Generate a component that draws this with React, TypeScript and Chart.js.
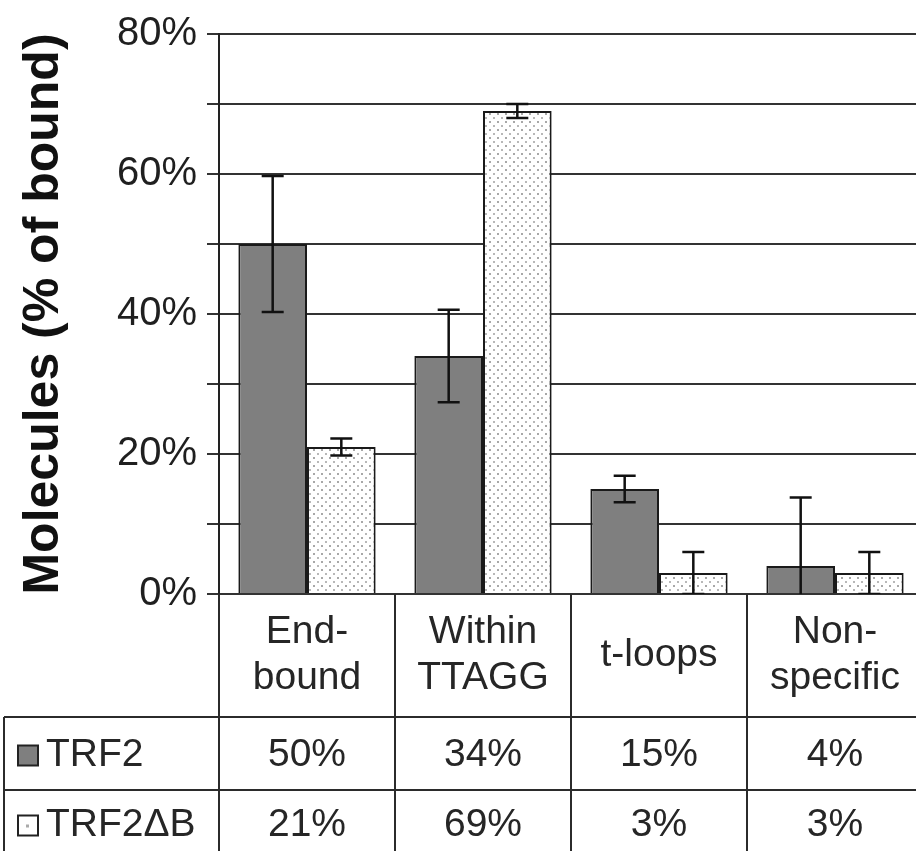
import React, { useEffect, useRef } from "react";
import { Chart, registerables } from "chart.js";

Chart.register(...registerables);

const categories: string[][] = [["End-", "bound"], ["Within", "TTAGG"], ["t-loops"], ["Non-", "specific"]];
const seriesNames = ["TRF2", "TRF2\u0394B"];
const trf2Values = [50, 34, 15, 4];
const trf2dbValues = [21, 69, 3, 3];
const trf2Errors = [9.7, 6.6, 1.9, 9.8];
const trf2dbErrors = [1.2, 1.0, 3.0, 3.0];
const yTickValues = [0, 20, 40, 60, 80];
const yTitle = "Molecules (% of bound)";

const FONT = "'Liberation Sans', Arial, sans-serif";

function makePattern(): CanvasPattern | string {
  const c = document.createElement("canvas");
  c.width = 8;
  c.height = 8;
  const g = c.getContext("2d");
  if (!g) return "#fff";
  g.fillStyle = "#ffffff";
  g.fillRect(0, 0, 8, 8);
  g.fillStyle = "#a8a8a8";
  g.fillRect(1, 1, 2, 2);
  g.fillStyle = "#b8b8b8";
  g.fillRect(5, 5, 2, 2);
  const p = g.createPattern(c, "repeat");
  return p || "#fff";
}

const errorsList = [trf2Errors, trf2dbErrors];

const errorBarPlugin = {
  id: "errorBars",
  afterDatasetsDraw(chart: any) {
    const ctx = chart.ctx;
    const yS = chart.scales.y;
    const area = chart.chartArea;
    ctx.save();
    ctx.beginPath();
    ctx.rect(area.left, area.top - 2, area.right - area.left, area.bottom - area.top + 2);
    ctx.clip();
    ctx.strokeStyle = "#111";
    ctx.lineWidth = 2.5;
    chart.data.datasets.forEach((ds: any, di: number) => {
      const meta = chart.getDatasetMeta(di);
      meta.data.forEach((bar: any, i: number) => {
        const v = ds.data[i];
        const e = errorsList[di][i];
        const x = bar.x;
        const yTop = yS.getPixelForValue(v + e);
        const yBot = yS.getPixelForValue(v - e);
        const cap = 11;
        ctx.beginPath();
        ctx.moveTo(x, yTop);
        ctx.lineTo(x, Math.min(yBot, area.bottom));
        ctx.moveTo(x - cap, yTop);
        ctx.lineTo(x + cap, yTop);
        if (v - e >= 0) {
          ctx.moveTo(x - cap, yBot);
          ctx.lineTo(x + cap, yBot);
        }
        ctx.stroke();
      });
    });
    ctx.restore();
  },
};

const tablePlugin = {
  id: "dataTable",
  afterDraw(chart: any) {
    const ctx = chart.ctx;
    const area = chart.chartArea;
    const xS = chart.scales.x;
    const n = categories.length;
    const catW = (area.right - area.left) / n;
    const top = area.bottom;
    const headBottom = top + 123;
    const row1Bottom = top + 196;
    const bottom = chart.height;
    const leftEdge = 4;
    ctx.save();
    ctx.strokeStyle = "#2b2b2b";
    ctx.lineWidth = 2;
    for (let i = 0; i <= n; i++) {
      const x = area.left + i * catW;
      ctx.beginPath();
      ctx.moveTo(x, top);
      ctx.lineTo(x, bottom);
      ctx.stroke();
    }
    ctx.beginPath();
    ctx.moveTo(leftEdge, headBottom);
    ctx.lineTo(leftEdge, bottom);
    ctx.stroke();
    [headBottom, row1Bottom].forEach((y) => {
      ctx.beginPath();
      ctx.moveTo(leftEdge, y);
      ctx.lineTo(area.right, y);
      ctx.stroke();
    });
    ctx.fillStyle = "#262626";
    ctx.font = `39px ${FONT}`;
    ctx.textAlign = "center";
    ctx.textBaseline = "middle";
    categories.forEach((lines, i) => {
      const cx = xS.getPixelForValue(i);
      const midY = (top + headBottom) / 2;
      const lh = 46;
      lines.forEach((t, li) => {
        const y = midY + (li - (lines.length - 1) / 2) * lh;
        ctx.fillText(t, cx, y);
      });
    });
    const rows = [trf2Values, trf2dbValues];
    const rowMid = [(headBottom + row1Bottom) / 2, (row1Bottom + bottom) / 2 + 3];
    rows.forEach((vals, ri) => {
      vals.forEach((v, i) => {
        const cx = xS.getPixelForValue(i);
        ctx.fillText(`${v}%`, cx, rowMid[ri] + 2);
      });
      const ky = rowMid[ri] + 2;
      const size = 20;
      ctx.fillStyle = ri === 0 ? "#7f7f7f" : "#ffffff";
      ctx.fillRect(18, ky - size / 2, size, size);
      ctx.strokeStyle = "#222";
      ctx.lineWidth = 2;
      ctx.strokeRect(18, ky - size / 2, size, size);
      if (ri === 1) {
        ctx.fillStyle = "#aaa";
        ctx.fillRect(26, ky - 1, 3, 3);
      }
      ctx.fillStyle = "#262626";
      ctx.textAlign = "left";
      ctx.fillText(seriesNames[ri], 46, rowMid[ri] + 2);
      ctx.textAlign = "center";
    });
    ctx.restore();
  },
};

export default function App() {
  const ref = useRef<HTMLCanvasElement | null>(null);
  useEffect(() => {
    if (!ref.current) return;
    const pattern = makePattern();
    const chart = new Chart(ref.current, {
      type: "bar",
      data: {
        labels: categories.map((c) => c.join(" ")),
        datasets: [
          {
            label: seriesNames[0],
            data: trf2Values,
            backgroundColor: "#7f7f7f",
            borderColor: "#1a1a1a",
            borderWidth: 2,
            barPercentage: 1.0,
            categoryPercentage: 0.78,
          },
          {
            label: seriesNames[1],
            data: trf2dbValues,
            backgroundColor: pattern as any,
            borderColor: "#1a1a1a",
            borderWidth: 2,
            barPercentage: 1.0,
            categoryPercentage: 0.78,
          },
        ],
      },
      options: {
        animation: false,
        responsive: false,
        maintainAspectRatio: false,
        layout: { padding: { top: 32, right: 1, bottom: 257, left: 0 } },
        plugins: {
          legend: { display: false },
          tooltip: { enabled: false },
        },
        scales: {
          x: { display: false },
          y: {
            min: 0,
            max: 80,
            ticks: {
              stepSize: 10,
              autoSkip: false,
              padding: 10,
              color: "#1f1f1f",
              font: { family: FONT, size: 40 },
              callback: (v: any) => (yTickValues.includes(Number(v)) ? `${v}%` : ""),
            },
            grid: { color: "#333", lineWidth: 2, tickLength: 12 },
            border: { color: "#222", width: 2 },
            title: {
              display: true,
              text: yTitle,
              color: "#111",
              font: { family: FONT, size: 50, weight: "bold" },
              padding: { top: 14, bottom: 0 },
            },
            afterFit: (s: any) => {
              s.width = 219;
            },
          },
        },
      },
      plugins: [errorBarPlugin, tablePlugin],
    });
    return () => chart.destroy();
  }, []);
  return (
    <div style={{ position: "fixed", left: 0, top: 0, width: 916, height: 851, overflow: "hidden", background: "#fff" }}>
      <canvas ref={ref} width={924} height={851} style={{ width: 924, height: 851, display: "block" }} />
    </div>
  );
}
